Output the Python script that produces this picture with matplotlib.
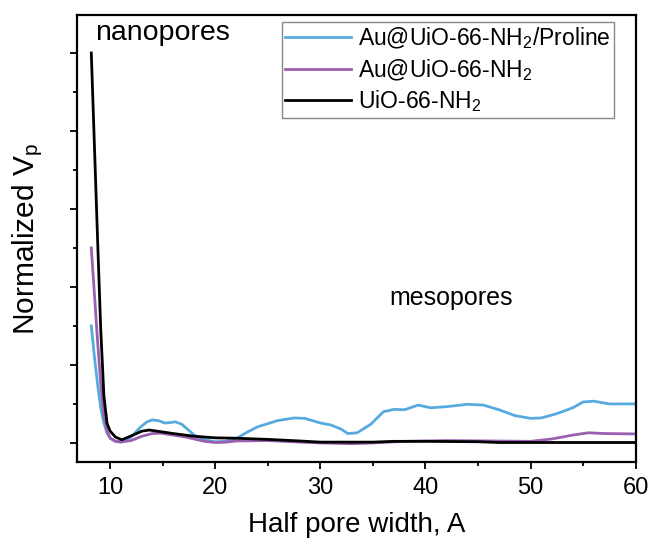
import matplotlib
matplotlib.use("Agg")
from matplotlib import pyplot as plt
from matplotlib.ticker import MultipleLocator

plt.rcParams['font.family'] = ['Liberation Sans', 'DejaVu Sans']
plt.rcParams['mathtext.fontset'] = 'custom'
plt.rcParams['mathtext.rm'] = 'Liberation Sans'
plt.rcParams['mathtext.default'] = 'regular'

# pore width (A) and normalized Vp
x_proline = [8.2, 8.5, 8.8, 9.1, 9.4, 9.7, 10.0, 10.5, 11.0, 12.0, 12.9, 13.5, 14.0, 14.6, 15.2,
             15.7, 16.2, 16.8, 17.4, 18.0, 19.0, 20.0, 21.0, 22.1, 23.0, 24.0, 25.9, 27.5,
             28.5, 30.0, 31.0, 32.0, 32.6, 33.5, 34.8, 36.0, 37.0, 38.0, 39.3, 40.5, 42.0,
             44.0, 45.5, 47.0, 48.5, 50.0, 51.0, 52.5, 54.0, 55.0, 56.0, 57.5, 60.0]
y_proline = [0.30, 0.22, 0.15, 0.09, 0.05, 0.025, 0.012, 0.004, 0.003, 0.015, 0.041, 0.054,
             0.059, 0.057, 0.051, 0.052, 0.054, 0.048, 0.034, 0.02, 0.008, 0.003, 0.004,
             0.013, 0.027, 0.041, 0.057, 0.064, 0.063, 0.051, 0.046, 0.035, 0.024, 0.026,
             0.048, 0.08, 0.086, 0.085, 0.097, 0.09, 0.093, 0.099, 0.097, 0.085, 0.07, 0.063,
             0.064, 0.075, 0.09, 0.105, 0.107, 0.10, 0.10]

x_au = [8.2, 8.5, 8.8, 9.1, 9.4, 9.7, 10.0, 10.5, 11.0, 12.0, 13.0, 14.0, 14.8, 16.0, 17.0,
        18.0, 19.0, 20.0, 21.0, 22.0, 25.0, 28.0, 30.0, 33.0, 35.0, 38.0, 42.0, 46.0, 50.0,
        52.0, 54.0, 55.5, 57.0, 60.0]
y_au = [0.5, 0.38, 0.26, 0.15, 0.07, 0.03, 0.012, 0.004, 0.002, 0.006, 0.017, 0.024, 0.025,
        0.02, 0.016, 0.01, 0.004, 0.001, 0.002, 0.005, 0.006, 0.002, 0.0, -0.002, 0.0, 0.004,
        0.006, 0.005, 0.004, 0.01, 0.02, 0.026, 0.024, 0.023]

x_uio = [8.2, 8.5, 8.8, 9.1, 9.4, 9.7, 10.0, 10.5, 11.1, 12.0, 13.0, 13.7, 14.5, 16.0, 18.0,
         20.0, 22.0, 25.0, 28.0, 30.0, 35.0, 37.0, 40.0, 45.0, 47.0, 50.0, 55.0, 60.0]
y_uio = [1.0, 0.76, 0.52, 0.29, 0.12, 0.05, 0.03, 0.015, 0.008, 0.018, 0.03, 0.033, 0.03,
         0.024, 0.017, 0.013, 0.012, 0.009, 0.005, 0.002, 0.002, 0.004, 0.004, 0.003, 0.001,
         0.001, 0.001, 0.001]

fig = plt.figure(figsize=(6.48, 5.41), dpi=100)
ax = fig.add_axes([0.119, 0.146, 0.862, 0.826])

ax.plot(x_proline, y_proline, color='#56aadf', lw=2.0, label=r'Au@UiO-66-NH$_2$/Proline')
ax.plot(x_au, y_au, color='#9a5fb0', lw=2.0, label=r'Au@UiO-66-NH$_2$')
ax.plot(x_uio, y_uio, color='black', lw=2.0, label=r'UiO-66-NH$_2$')

ax.set_xlim(6.85, 60)
ax.set_ylim(-0.049, 1.097)
ax.xaxis.set_major_locator(MultipleLocator(10))
ax.xaxis.set_minor_locator(MultipleLocator(5))
ax.yaxis.set_major_locator(MultipleLocator(0.2))
ax.yaxis.set_minor_locator(MultipleLocator(0.1))
ax.set_yticklabels([])
ax.tick_params(which='major', direction='out', length=5, width=1.3, labelsize=17, pad=6)
ax.tick_params(which='minor', direction='out', length=3, width=1.3)
for s in ax.spines.values():
    s.set_linewidth(1.6)

ax.set_xlabel('Half pore width, A', fontsize=20, labelpad=9)
ax.set_ylabel(r'Normalized V$_p$', fontsize=21.5, labelpad=12)

ax.text(8.57, 1.05, 'nanopores', fontsize=20.5, va='center', ha='left')
ax.text(42.4, 0.372, 'mesopores', fontsize=18, va='center', ha='center')

leg = ax.legend(loc='upper right', bbox_to_anchor=(0.962, 0.985), fontsize=16.5,
                fancybox=False, edgecolor='#888888', framealpha=1,
                handlelength=2.9, borderaxespad=0.0, labelspacing=0.25,
                borderpad=0.15, handletextpad=0.3)
leg.get_frame().set_linewidth(1.0)

fig.savefig('out.png', dpi=100)
